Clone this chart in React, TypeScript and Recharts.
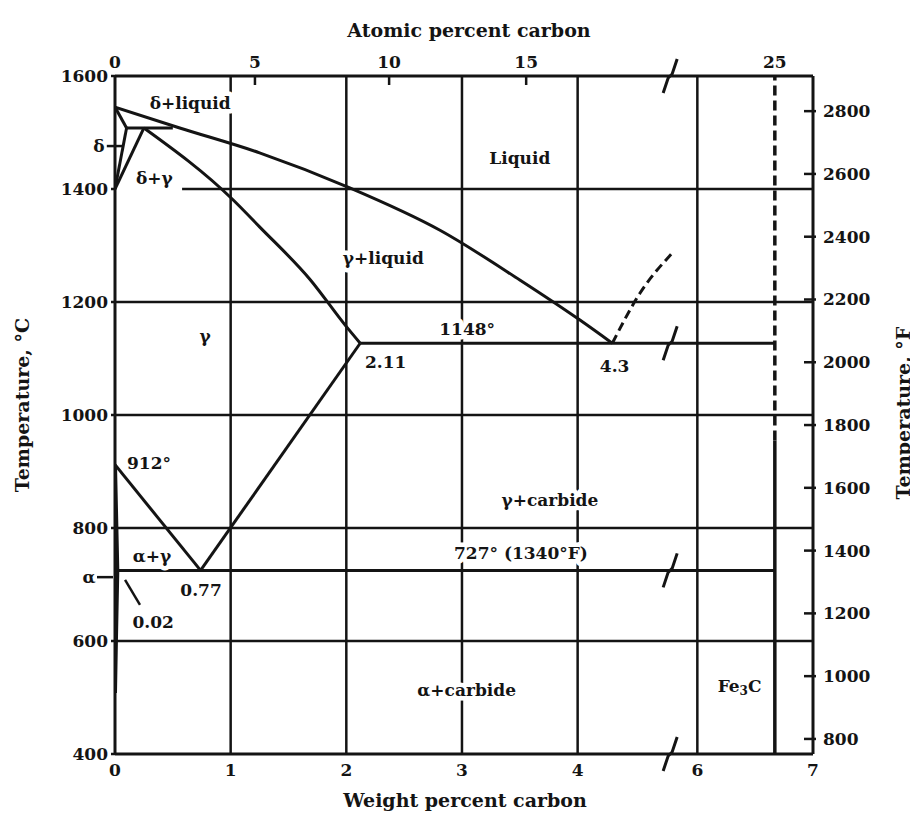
import React from 'react';
import { ComposedChart, Line, XAxis, YAxis, ReferenceLine, ReferenceDot } from 'recharts';

const FONT = '"DejaVu Serif", "Liberation Serif", serif';
const INK = '#141414';

// weight % axis is cut between ~4.85 and ~5.8 wt%
const CUT_FROM = 4.85;
const CUT_GAP = 0.965;
const disp = (w: number) => (w <= CUT_FROM ? w : w - CUT_GAP);
const X_MAX = disp(7);
const CUT_AT = 4.8;

const weightTicks = [0, 1, 2, 3, 4, 6, 7];
const atomicTicks = [0, 5, 10, 15, 25];
const atomicTickAtWt = [0, 1.21, 2.37, 3.555, 6.67];
const celsiusTicks = [400, 600, 800, 1000, 1200, 1400, 1600];
const fahrenheitTicks = [800, 1000, 1200, 1400, 1600, 1800, 2000, 2200, 2400, 2600, 2800];

const gridWt = [1, 2, 3, 4, 6];
const gridC = [600, 800, 1000, 1200];
const grid1400From = 0.58;
const cutRows = [1600, 1127, 725, 400];

// phase boundaries as [wt% C, °C]
const liquidus = [[0, 1545], [0.56, 1508], [1.25, 1464], [2.03, 1402], [2.81, 1327], [3.5, 1239], [4.02, 1168], [4.3, 1127]];
const gammaSolidus = [[0.25, 1508], [1.02, 1381], [1.25, 1333], [1.69, 1239], [1.99, 1159], [2.12, 1127]];
const deltaSolidus = [[0, 1545], [0.1, 1508]];
const deltaSolvus = [[0.1, 1508], [0, 1400]];
const gammaDelta = [[0.25, 1508], [0, 1400]];
const peritectic = [[0.1, 1508], [0.5, 1508]];
const a3Line = [[0, 912], [0.74, 725]];
const acmLine = [[2.12, 1127], [0.74, 725]];
const alphaSolvus = [[0, 912], [0.02, 725], [0.008, 600], [0, 508]];
const eutectic = [[2.12, 1127], [6.67, 1127]];
const eutectoid = [[0.02, 725], [6.67, 725]];
const cementiteLiquidus = [[4.3, 1127], [4.54, 1216], [4.82, 1287]];
const fe3cSolid = [[6.67, 400], [6.67, 955]];
const fe3cDashed = [[6.67, 955], [6.67, 1600]];
const pointer002 = [[0.087, 708], [0.216, 664]];

// [text, wt% C, °C] at the label centre
const regionLabels: [string, number, number][] = [
  ['δ+liquid', 0.65, 1552],
  ['δ+γ', 0.34, 1419],
  ['Liquid', 3.5, 1455],
  ['γ+liquid', 2.32, 1278],
  ['γ', 0.78, 1140],
  ['1148°', 3.045, 1152],
  ['2.11', 2.34, 1094],
  ['4.3', 4.32, 1087],
  ['912°', 0.294, 915],
  ['γ+carbide', 3.76, 850],
  ['α+γ', 0.32, 750],
  ['727° (1340°F)', 3.51, 756],
  ['0.77', 0.744, 690],
  ['0.02', 0.33, 634],
  ['α+carbide', 3.04, 513],
  ['Fe3C', 6.365, 520],
];
// labels left of the axis with a short leader
const sideLabels: [string, number, number][] = [
  ['δ', -0.14, 1476],
  ['α', -0.225, 713],
];

const pts = (a: number[][]) => a.map(([w, t]) => ({ x: disp(w), t }));

const txt = { fill: INK, fontFamily: FONT, fontWeight: 700, fontSize: 17 };

const tagBody = (text: string) =>
  text === 'Fe3C' ? (
    <>
      <tspan>Fe</tspan>
      <tspan dy={5} fontSize={12}>3</tspan>
      <tspan dy={-5}>C</tspan>
    </>
  ) : text;

// white halo first, then the ink copy on top
const Tag = ({ cx, cy, text }: any) => (
  <g>
    <text x={cx} y={cy} textAnchor="middle" dominantBaseline="central" {...txt}
      fill="#fff" stroke="#fff" strokeWidth={9} strokeLinejoin="round">{tagBody(text)}</text>
    <text x={cx} y={cy} textAnchor="middle" dominantBaseline="central" {...txt}>{tagBody(text)}</text>
  </g>
);

const SideTag = ({ cx, cy, text }: any) => (
  <g>
    <text x={cx} y={cy} textAnchor="middle" dominantBaseline="central" {...txt}>{text}</text>
    <line x1={cx + 8} x2={cx + 24} y1={cy} y2={cy} stroke={INK} strokeWidth={2.5} />
  </g>
);

const CutMark = ({ cx, cy }: any) => (
  <path d={`M${cx - 7},${cy + 17} L${cx - 2},${cy + 2} L${cx + 2},${cy - 2} L${cx + 7},${cy - 17}`}
    fill="none" stroke={INK} strokeWidth={3} />
);

const TopTick = (p: any) => {
  const label = atomicTicks[p.index];
  return (
    <g>
      {label !== 0 && label !== 25 && <line x1={p.x} x2={p.x} y1={p.y} y2={p.y + 9} stroke={INK} strokeWidth={2.5} />}
      <text x={p.x} y={p.y - 14} textAnchor="middle" dominantBaseline="central" {...txt}>{label}</text>
    </g>
  );
};

const RightTick = (p: any) => (
  <g>
    <line x1={p.x - 9} x2={p.x + 3} y1={p.y} y2={p.y} stroke={INK} strokeWidth={2.5} />
    <text x={p.x + 10} y={p.y} textAnchor="start" dominantBaseline="central" {...txt}>{p.payload.value}</text>
  </g>
);

const title = (text: string, ox: number, oy: number, vertical: boolean) => (p: any) => {
  const vb = p.viewBox || { x: 0, y: 0, width: 0, height: 0 };
  const cx = vb.x + (vertical ? ox : vb.width / 2 + ox);
  const cy = vb.y + (vertical ? vb.height / 2 + oy : oy);
  return (
    <text x={cx} y={cy} textAnchor="middle" dominantBaseline="central"
      transform={vertical ? `rotate(-90 ${cx} ${cy})` : undefined} {...txt} fontSize={19}>
      {text}
    </text>
  );
};

const wtLabel = (v: number) => {
  const i = weightTicks.findIndex(w => Math.abs(disp(w) - v) < 1e-6);
  return i < 0 ? '' : String(weightTicks[i]);
};

const axisLine = { stroke: INK, strokeWidth: 3 };

export default function App() {
  const line = (data: number[][], curved = false, dash?: string, w = 3) => (
    <Line xAxisId="w" yAxisId="c" data={pts(data)} dataKey="t" type={curved ? 'monotone' : 'linear'}
      stroke={INK} strokeWidth={w} strokeDasharray={dash} dot={false} activeDot={false}
      isAnimationActive={false} />
  );

  return (
    <div style={{ width: 910, height: 812, background: '#fff' }}>
      <ComposedChart width={910} height={812} margin={{ top: 0, right: 0, bottom: 0, left: 0 }}>
        <XAxis xAxisId="w" dataKey="x" type="number" domain={[0, X_MAX]} allowDataOverflow
          ticks={weightTicks.map(disp)} tickFormatter={wtLabel} interval={0} height={66}
          axisLine={axisLine} tickLine={false} tickSize={0} tickMargin={10} tick={txt}
          label={{ content: title('Weight percent carbon', 1, 46, false) }} />
        <XAxis xAxisId="a" dataKey="x" type="number" orientation="top" domain={[0, X_MAX]} allowDataOverflow
          ticks={atomicTickAtWt.map(disp)} interval={0} height={68}
          axisLine={axisLine} tickLine={false} tickSize={0} tickMargin={0} tick={<TopTick />}
          label={{ content: title('Atomic percent carbon', 5, 22, false) }} />
        <YAxis yAxisId="c" type="number" domain={[400, 1600]} allowDataOverflow ticks={celsiusTicks}
          interval={0} width={107} axisLine={axisLine} tickLine={{ stroke: INK, strokeWidth: 2.5 }}
          tickSize={4} tickMargin={3} tick={txt}
          label={{ content: title('Temperature, °C', 14, -10, true) }} />
        <YAxis yAxisId="f" type="number" orientation="right" domain={[752, 2912]} allowDataOverflow
          ticks={fahrenheitTicks} interval={0} width={105} axisLine={axisLine} tickLine={false}
          tickSize={0} tickMargin={0} tick={<RightTick />}
          label={{ content: title('Temperature, °F', 90, -2, true) }} />

        {gridC.map(t => (
          <ReferenceLine key={`h${t}`} xAxisId="w" yAxisId="c" y={t} stroke={INK} strokeWidth={2.5} />
        ))}
        <ReferenceLine xAxisId="w" yAxisId="c" stroke={INK} strokeWidth={2.5}
          segment={[{ x: grid1400From, y: 1400 }, { x: X_MAX, y: 1400 }]} />
        {gridWt.map(w => (
          <ReferenceLine key={`v${w}`} xAxisId="w" yAxisId="c" x={disp(w)} stroke={INK} strokeWidth={2.5} />
        ))}

        {line(liquidus, true)}
        {line(gammaSolidus, true)}
        {line(deltaSolidus)}
        {line(deltaSolvus)}
        {line(gammaDelta)}
        {line(peritectic)}
        {line(a3Line)}
        {line(acmLine)}
        {line(alphaSolvus, false, undefined, 4)}
        {line(eutectic)}
        {line(eutectoid)}
        {line(cementiteLiquidus, true, '9 5')}
        {line(fe3cSolid, false, undefined, 3.5)}
        {line(fe3cDashed, false, '10 5', 3.5)}
        {line(pointer002, false, undefined, 2.5)}

        {cutRows.map(t => (
          <ReferenceDot key={`c${t}`} xAxisId="w" yAxisId="c" x={CUT_AT} y={t} r={0} ifOverflow="visible"
            shape={(p: any) => <CutMark cx={p.cx} cy={p.cy} />} />
        ))}
        {regionLabels.map(([text, w, t]) => (
          <ReferenceDot key={text} xAxisId="w" yAxisId="c" x={disp(w)} y={t} r={0} ifOverflow="visible"
            shape={(p: any) => <Tag cx={p.cx} cy={p.cy} text={text} />} />
        ))}
        {sideLabels.map(([text, w, t]) => (
          <ReferenceDot key={text} xAxisId="w" yAxisId="c" x={w} y={t} r={0} ifOverflow="visible"
            shape={(p: any) => <SideTag cx={p.cx} cy={p.cy} text={text} />} />
        ))}
      </ComposedChart>
    </div>
  );
}
